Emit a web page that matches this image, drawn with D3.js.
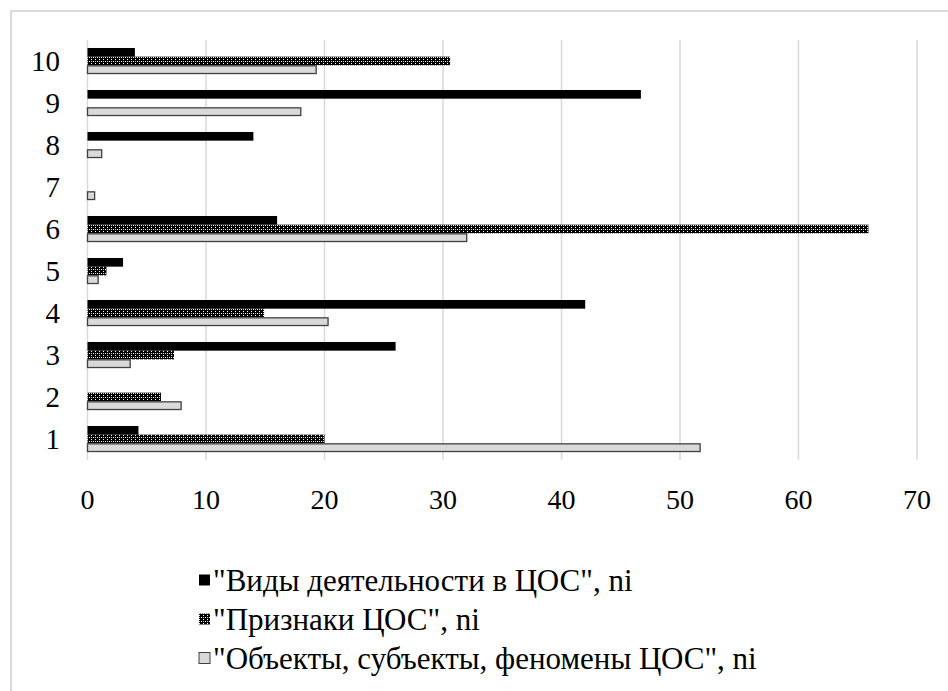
<!DOCTYPE html>
<html>
<head>
<meta charset="utf-8">
<script src="https://cdn.jsdelivr.net/npm/d3@7"></script>
<style>
  body { margin: 0; background: #fff; }
</style>
</head>
<body>
<script>
const categories = ['1', '2', '3', '4', '5', '6', '7', '8', '9', '10'];
const seriesNames = ['"Виды деятельности в ЦОС", ni', '"Признаки ЦОС", ni', '"Объекты, субъекты, феномены ЦОС", ni'];
const activities = [4.3, 0, 26, 42, 3, 16, 0, 14, 46.7, 4];
const features = [20, 6.2, 7.3, 14.9, 1.6, 65.9, 0, 0, 0, 30.6];
const objects = [51.7, 7.9, 3.6, 20.3, 0.9, 32, 0.6, 1.2, 18, 19.3];
const xTicks = [0, 10, 20, 30, 40, 50, 60, 70];

const width = 948, height = 691;
const plotLeft = 87.5, plotRight = 917, plotTop = 40, plotBottom = 460;
const serif = '"Liberation Serif", "Times New Roman", Tinos, FreeSerif, serif';

const svg = d3.select('body')
              .append('svg')
              .attr('width', width)
              .attr('height', height);

svg.append('rect')
  .attr('x', 11)
  .attr('y', 11)
  .attr('width', 960)
  .attr('height', 720)
  .attr('fill', 'none')
  .attr('stroke', '#d9d9d9')
  .attr('stroke-width', 2);

// hatch used for the middle series
const defs = svg.append('defs');
const pat = defs.append('pattern')
  .attr('id', 'dots')
  .attr('patternUnits', 'userSpaceOnUse')
  .attr('width', 4)
  .attr('height', 4);
pat.append('rect').attr('width', 4).attr('height', 4).attr('fill', '#000');
pat.append('rect').attr('x', 1).attr('y', 1).attr('width', 1).attr('height', 1).attr('fill', '#fff');
pat.append('rect').attr('x', 3).attr('y', 3).attr('width', 1).attr('height', 1).attr('fill', '#fff');
pat.append('rect').attr('x', 3).attr('y', 1).attr('width', 1).attr('height', 1).attr('fill', '#ccc');

const xScale = d3.scaleLinear().domain([0, 70]).range([plotLeft, plotRight]);
const yScale = d3.scaleBand()
  .domain(categories.slice().reverse())
  .range([plotTop, plotBottom])
  .paddingInner(0.38)
  .paddingOuter(0.19);
const inner = d3.scaleBand()
  .domain([0, 1, 2])
  .range([0, yScale.bandwidth()]);

// gridlines
svg.append('g')
  .selectAll('line')
  .data(xTicks)
  .enter()
  .append('line')
  .attr('x1', (d) => xScale(d))
  .attr('x2', (d) => xScale(d))
  .attr('y1', plotTop)
  .attr('y2', plotBottom)
  .attr('stroke', '#d9d9d9')
  .attr('stroke-width', 1.5);

const styles = [
  { fill: '#000', stroke: 'none' },
  { fill: 'url(#dots)', stroke: 'none' },
  { fill: '#d9d9d9', stroke: '#404040' }
];
const series = [activities, features, objects];

series.forEach(function(values, i) {
  svg.append('g')
    .selectAll('rect')
    .data(values.map((v, j) => ({ cat: categories[j], v: v })).filter((d) => d.v > 0))
    .enter()
    .append('rect')
    .attr('x', xScale(0))
    .attr('y', (d) => yScale(d.cat) + inner(i) + (i === 2 ? 0.5 : 0))
    .attr('width', (d) => xScale(d.v) - xScale(0))
    .attr('height', inner.bandwidth() - (i === 2 ? 1 : 0))
    .attr('fill', styles[i].fill)
    .attr('stroke', styles[i].stroke)
    .attr('stroke-width', 1.3);
});

// category labels
svg.append('g')
  .selectAll('text')
  .data(categories)
  .enter()
  .append('text')
  .attr('x', 60)
  .attr('y', (d) => yScale(d) + yScale.bandwidth() / 2)
  .attr('dy', '0.35em')
  .attr('text-anchor', 'end')
  .attr('font-family', serif)
  .style('font-family', serif)
  .style('font-size', '29px')
  .text((d) => d);

// value axis labels
svg.append('g')
  .selectAll('text')
  .data(xTicks)
  .enter()
  .append('text')
  .attr('x', (d) => xScale(d))
  .attr('y', 509)
  .attr('text-anchor', 'middle')
  .attr('font-family', serif)
  .style('font-family', serif)
  .style('font-size', '28px')
  .text((d) => d);

// legend
const legendY = [580, 619, 658];
const legend = svg.append('g');
legend.selectAll('rect')
  .data(seriesNames)
  .enter()
  .append('rect')
  .attr('x', 199)
  .attr('y', (d, i) => legendY[i] - 5.5)
  .attr('width', 11)
  .attr('height', 11)
  .attr('fill', (d, i) => styles[i].fill)
  .attr('stroke', (d, i) => i === 2 ? '#404040' : 'none')
  .attr('stroke-width', 1);

legend.selectAll('text')
  .data(seriesNames)
  .enter()
  .append('text')
  .attr('x', 213)
  .attr('y', (d, i) => legendY[i])
  .attr('dy', '0.35em')
  .attr('font-family', serif)
  .style('font-family', serif)
  .style('font-size', '31px')
  .text((d) => d);
</script>
</body>
</html>
